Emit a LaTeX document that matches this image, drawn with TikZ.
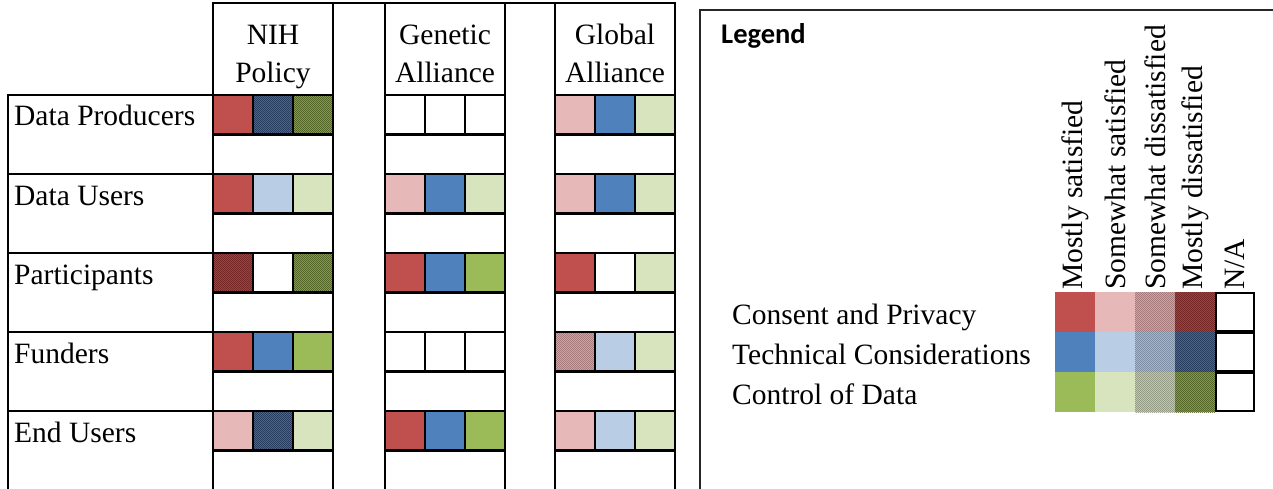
\documentclass[tikz,border=0pt]{standalone}
\usepackage{fontspec}
\setmainfont{Liberation Serif}
\newfontfamily\legfont{Carlito}
\usetikzlibrary{patterns.meta}
\definecolor{cR}{HTML}{C0504D}
\definecolor{cRl}{HTML}{E6B9B8}
\definecolor{cB}{HTML}{4F81BD}
\definecolor{cBl}{HTML}{B9CDE5}
\definecolor{cG}{HTML}{9BBB59}
\definecolor{cGl}{HTML}{D7E4BD}
\definecolor{sRf}{HTML}{DFB2B1}\definecolor{sRp}{HTML}{A07474}
\definecolor{sBf}{HTML}{B7C7DB}\definecolor{sBp}{HTML}{76869C}
\definecolor{sGf}{HTML}{CFD8BC}\definecolor{sGp}{HTML}{8E947E}
\definecolor{dRf}{HTML}{B44A47}\definecolor{dRp}{HTML}{6E2222}
\definecolor{dBf}{HTML}{4A77AE}\definecolor{dBp}{HTML}{223656}
\definecolor{dGf}{HTML}{90B052}\definecolor{dGp}{HTML}{4E5E20}
\tikzdeclarepattern{
  name=finelines,
  type=uncolored,
  bounding box={(-0.5pt,-0.5pt) and (2.5pt,2.5pt)},
  tile size={(2pt,2pt)},
  code={\pgfsetlinewidth{0.6pt}%
        \pgfpathmoveto{\pgfpoint{-0.5pt}{-0.5pt}}%
        \pgfpathlineto{\pgfpoint{2.5pt}{2.5pt}}%
        \pgfusepath{stroke}}
}
\tikzset{
  tbl/.style={line width=2.6pt, black, line cap=rect},
  R/.style={fill=cR}, Rl/.style={fill=cRl},
  Rs/.style={fill=sRf, postaction={pattern=finelines, pattern color=sRp}},
  Rd/.style={fill=dRf, postaction={pattern=finelines, pattern color=dRp}},
  B/.style={fill=cB}, Bl/.style={fill=cBl},
  Bs/.style={fill=sBf, postaction={pattern=finelines, pattern color=sBp}},
  Bd/.style={fill=dBf, postaction={pattern=finelines, pattern color=dBp}},
  G/.style={fill=cG}, Gl/.style={fill=cGl},
  Gs/.style={fill=sGf, postaction={pattern=finelines, pattern color=sGp}},
  Gd/.style={fill=dGf, postaction={pattern=finelines, pattern color=dGp}},
  W/.style={fill=white},
  txt/.style={inner sep=0pt, font=\fontsize{29.5}{35}\selectfont},
}
\begin{document}
\begin{tikzpicture}[x=1pt,y=-1pt]
\useasboundingbox (0,0) rectangle (1273,489);
\clip (0,0) rectangle (1273,489);
% cells
\foreach \gx/\cells in {213/{R,Bd,Gd,R,Bl,Gl,Rd,W,Gd,R,B,G,Rl,Bd,Gl},
                        385/{W,W,W,Rl,B,Gl,R,B,G,W,W,W,R,B,G},
                        555/{Rl,B,Gl,Rl,B,Gl,R,W,Gl,Rs,Bl,Gl,Rl,Bl,Gl}}{
  \foreach [count=\i from 0] \c in \cells {
    \pgfmathtruncatemacro\rr{int(\i/3)}
    \pgfmathtruncatemacro\cc{mod(\i,3)}
    \path[\c] (\gx+40*\cc,95+79*\rr) rectangle ++(40,39.5);
  }
}
% grid lines of the three groups
\draw[tbl] (213,3) -- (675,3);
\foreach \gx in {213,385,555}{
  \draw[tbl] (\gx,3) -- (\gx,500);
  \draw[tbl] (\gx+120,3) -- (\gx+120,500);
  \foreach \k in {0,...,9}{
    \draw[tbl] (\gx,95+39.5*\k) -- (\gx+120,95+39.5*\k);
  }
  \foreach \r in {0,...,4}{
    \draw[tbl] (\gx+40,95+79*\r) -- ++(0,39.5);
    \draw[tbl] (\gx+80,95+79*\r) -- ++(0,39.5);
  }
}
% label column
\draw[tbl] (8,500) -- (8,95) -- (213,95);
\foreach \r in {1,...,5}{
  \draw[tbl] (8,95+79*\r) -- (213,95+79*\r);
}
% headers
\node[txt, anchor=base] (h1a) at (273,45) {NIH};
\node[txt, anchor=base] (h1b) at (273,83) {Policy};
\node[txt, anchor=base] (h2a) at (445,45) {Genetic};
\node[txt, anchor=base] (h2b) at (445,83) {Alliance};
\node[txt, anchor=base] (h3a) at (615,45) {Global};
\node[txt, anchor=base] (h3b) at (615,83) {Alliance};
% row labels
\node[txt, anchor=base west] (r1) at (14,126) {Data Producers};
\node[txt, anchor=base west] (r2) at (14,205) {Data Users};
\node[txt, anchor=base west] (r3) at (14,284) {Participants};
\node[txt, anchor=base west] (r4) at (14,363) {Funders};
\node[txt, anchor=base west] (r5) at (14,442) {End Users};
% legend box
\draw[line width=1.6pt, black!85] (700,500) -- (700,10) -- (1280,10);
\node[inner sep=0pt, anchor=base west, font=\legfont\bfseries\fontsize{28.5}{32}\selectfont] (leg) at (721,44) {Legend};
% legend column labels
\node[txt, rotate=90, anchor=west] (l1) at (1075,290) {Mostly satisfied};
\node[txt, rotate=90, anchor=west] (l2) at (1115,290) {Somewhat satisfied};
\node[txt, rotate=90, anchor=west] (l3) at (1155,290) {Somewhat dissatisfied};
\node[txt, rotate=90, anchor=west] (l4) at (1195,290) {Mostly dissatisfied};
\node[txt, rotate=90, anchor=west] (l5) at (1235,290) {N/A};
% legend row labels
\node[txt, anchor=base west] (c1) at (732,324) {Consent and Privacy};
\node[txt, anchor=base west] (c2) at (732,364) {Technical Considerations};
\node[txt, anchor=base west] (c3) at (732,404) {Control of Data};
% legend swatches
\foreach \c [count=\i from 0] in {R,Rl,Rs,Rd}{ \path[\c] (1055+40*\i,292) rectangle ++(40,40); }
\foreach \c [count=\i from 0] in {B,Bl,Bs,Bd}{ \path[\c] (1055+40*\i,332) rectangle ++(40,40); }
\foreach \c [count=\i from 0] in {G,Gl,Gs,Gd}{ \path[\c] (1055+40*\i,372) rectangle ++(40,40); }
\foreach \r in {0,1,2}{
  \draw[tbl, fill=white] (1216,293+40*\r) rectangle ++(38,38);
}
\end{tikzpicture}
\end{document}
